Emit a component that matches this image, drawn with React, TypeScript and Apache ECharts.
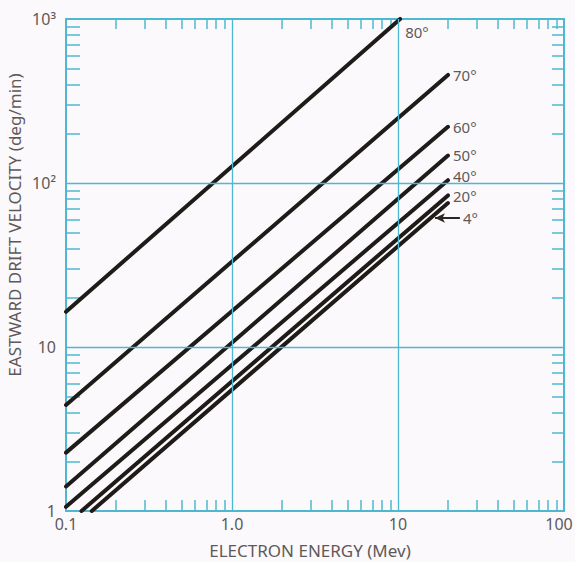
import React, { useEffect, useRef } from "react";
import * as echarts from "echarts";

// Pitch-angle curves (log-log straight lines): start and end points
const angles = ["80°", "70°", "60°", "50°", "40°", "20°", "4°"];
const startEnergy = [0.1, 0.1, 0.1, 0.1, 0.1, 0.124, 0.143];
const startVelocity = [16.4, 4.43, 2.27, 1.41, 1.06, 1, 1];
const endEnergy = [10.3, 20, 20, 20, 20, 20, 20];
const endVelocity = [1000, 456, 220, 147, 104, 84, 75.5];

// Axis ticks
const xMajor = [0.1, 1, 10, 100];
const xMajorLabels = ["0.1", "1.0", "10", "100"];
const xMinor = [0.2, 0.3, 0.4, 0.5, 0.6, 0.7, 0.8, 0.9, 2, 3, 4, 5, 6, 7, 8, 9, 20, 30, 40, 50, 60, 70, 80, 90];
const yMajor = [1, 10, 100, 1000];
const yMajorLabels = ["1", "10", "10²", "10³"];
const yMinor = [2, 3, 4, 5, 6, 7, 8, 9, 20, 30, 40, 50, 60, 70, 80, 90, 200, 300, 400, 500, 600, 700, 800, 900];
const xGrid = [1, 10];
const yGrid = [10, 100];

// 4° pointer arrow (tail energy, head energy, velocity level)
const arrowTailEnergy = 23.6;
const arrowHeadEnergy = 16.7;
const arrowVelocity = 61.2;

const BLUE = "#4fb8d1";
const TEXT = "#5e5959";
const FONT = "Noto Sans";

const labelOffsets: Record<string, number[]> = {
  "80°": [0, 13],
  "70°": [0, 0],
  "60°": [0, 0],
  "50°": [0, -1],
  "40°": [0, -4],
  "20°": [0, 1],
  "4°": [0, 0],
};

export default function App() {
  const ref = useRef<HTMLDivElement>(null);
  useEffect(() => {
    if (!ref.current) return;
    const chart = echarts.init(ref.current, undefined, { renderer: "svg" });

    const axisLine = { show: true, onZero: false, lineStyle: { color: BLUE, width: 2 } };
    const mkTick = (len: number, vals: number[]) => ({
      show: true,
      inside: true,
      length: len,
      customValues: vals,
      lineStyle: { color: BLUE, width: 1.5 },
    });

    const curveSeries = angles.map((a, i) => ({
      name: a,
      type: "line",
      xAxisIndex: 0,
      yAxisIndex: 0,
      z: 3,
      symbol: "none",
      silent: true,
      lineStyle: { color: "#1f1b19", width: 4, cap: "round" },
      data: [
        [startEnergy[i], startVelocity[i]],
        [endEnergy[i], endVelocity[i]],
      ],
      endLabel: {
        show: a !== "4°",
        formatter: a,
        color: TEXT,
        fontFamily: FONT,
        fontSize: 15,
        lineHeight: 16,
        distance: 5,
        offset: labelOffsets[a],
      },
    }));

    chart.setOption({
      animation: false,
      backgroundColor: "#fbf9fb",
      grid: { left: 66, right: 11, top: 19, bottom: 51, containLabel: false, outerBoundsMode: "none" },
      xAxis: [
        {
          type: "log",
          logBase: 10,
          min: 0.1,
          max: 100,
          position: "bottom",
          axisLine,
          axisTick: mkTick(11, xMinor),
          splitLine: { show: false },
          axisLabel: {
            customValues: xMajor,
            color: TEXT,
            fontFamily: FONT,
            fontSize: 16,
            margin: 5,
            rich: {
              last: { color: TEXT, fontFamily: FONT, fontSize: 16, padding: [0, 10, 0, 0] },
            },
            formatter: (v: number) => {
              const idx = xMajor.findIndex((m) => Math.abs(m - v) / m < 1e-6);
              if (idx < 0) return "";
              return idx === xMajor.length - 1 ? `{last|${xMajorLabels[idx]}}` : xMajorLabels[idx];
            },
          },
        },
        {
          type: "log",
          logBase: 10,
          min: 0.1,
          max: 100,
          position: "top",
          axisLine,
          axisTick: mkTick(10, xMinor),
          splitLine: { show: false },
          axisLabel: { show: false },
        },
      ],
      yAxis: [
        {
          type: "log",
          logBase: 10,
          min: 1,
          max: 1000,
          position: "left",
          axisLine,
          axisTick: mkTick(14, yMinor),
          splitLine: { show: false },
          axisLabel: {
            customValues: yMajor,
            color: TEXT,
            fontFamily: FONT,
            fontSize: 16,
            margin: 10,
            formatter: (v: number) => {
              const idx = yMajor.findIndex((m) => Math.abs(m - v) / m < 1e-6);
              return idx >= 0 ? yMajorLabels[idx] : "";
            },
          },
        },
        {
          type: "log",
          logBase: 10,
          min: 1,
          max: 1000,
          position: "right",
          axisLine,
          axisTick: mkTick(12, yMinor),
          splitLine: { show: false },
          axisLabel: { show: false },
        },
      ],
      graphic: [
        {
          type: "text",
          x: 14,
          y: 225,
          rotation: Math.PI / 2,
          style: {
            text: "EASTWARD DRIFT VELOCITY (deg/min)",
            fill: TEXT,
            font: `17px "${FONT}"`,
            textAlign: "center",
            textVerticalAlign: "middle",
          },
        },
        {
          type: "text",
          x: 310,
          y: 550,
          style: {
            text: "ELECTRON ENERGY (Mev)",
            fill: TEXT,
            font: `17px "${FONT}"`,
            textAlign: "center",
            textVerticalAlign: "middle",
          },
        },
      ],
      series: [
        {
          type: "line",
          xAxisIndex: 0,
          yAxisIndex: 0,
          z: 1,
          symbol: "none",
          silent: true,
          lineStyle: { opacity: 0 },
          data: [[0.1, 1]],
          markLine: {
            silent: true,
            symbol: ["none", "none"],
            label: { show: false },
            lineStyle: { color: BLUE, width: 1.3, type: "solid" },
            data: [
              ...xGrid.map((v) => ({ xAxis: v })),
              ...yGrid.map((v) => ({ yAxis: v })),
            ],
          },
        },
        ...curveSeries,
        {
          type: "line",
          xAxisIndex: 0,
          yAxisIndex: 0,
          z: 4,
          symbol: "none",
          silent: true,
          lineStyle: { opacity: 0 },
          data: [[arrowTailEnergy, arrowVelocity]],
          markLine: {
            silent: true,
            symbol: ["none", "arrow"],
            symbolSize: [7, 10],
            lineStyle: { color: "#2a2624", width: 2, type: "solid" },
            label: {
              show: true,
              position: "start",
              formatter: "4°",
              color: TEXT,
              fontFamily: FONT,
              fontSize: 15,
              lineHeight: 16,
              distance: 3,
            },
            data: [
              [
                { coord: [arrowTailEnergy, arrowVelocity] },
                { coord: [arrowHeadEnergy, arrowVelocity] },
              ],
            ],
          },
        },
      ],
    });
    return () => chart.dispose();
  }, []);

  return (
    <div
      ref={ref}
      style={{ position: "absolute", left: 0, top: 0, width: 575, height: 562, background: "#fbf9fb" }}
    />
  );
}
